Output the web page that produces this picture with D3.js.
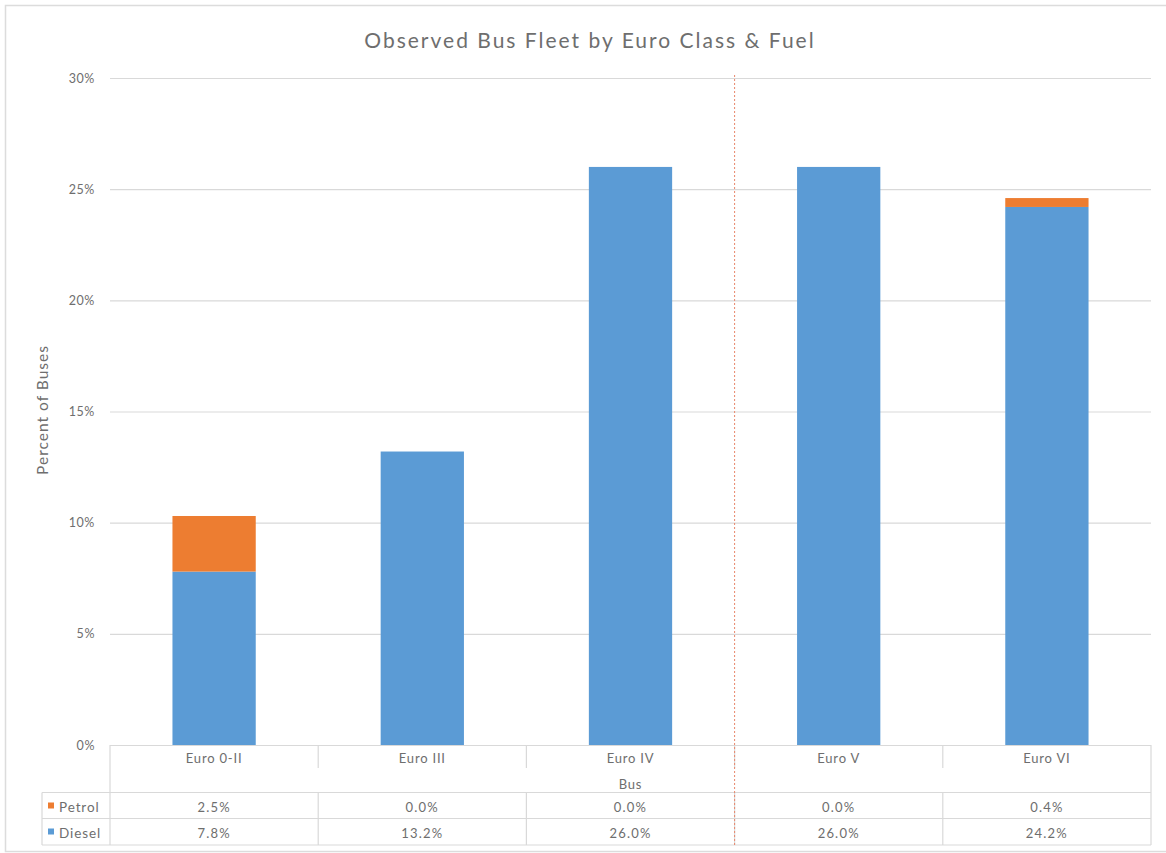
<!DOCTYPE html>
<html>
<head>
<meta charset="utf-8">
<script src="https://cdn.jsdelivr.net/npm/d3@7"></script>
<style>
  html, body { margin: 0; padding: 0; background: #fff; }
  svg text { font-family: Lato, "Open Sans", sans-serif; fill: #6e6e6e; }
</style>
</head>
<body>
<svg id="chart" width="1166" height="853"></svg>
<script>
// Euro classes along the x axis
const categories = ["Euro 0-II", "Euro III", "Euro IV", "Euro V", "Euro VI"];
// Share of observed buses (%) by fuel
const diesel = [7.8, 13.2, 26.0, 26.0, 24.2];
const petrol = [2.5, 0.0, 0.0, 0.0, 0.4];
const yTicks = [0, 5, 10, 15, 20, 25, 30];
const axisGroupLabel = "Bus";
const chartTitle = "Observed Bus Fleet by Euro Class & Fuel";
const yTitle = "Percent of Buses";

const colors = { Diesel: "#5B9BD5", Petrol: "#ED7D31" };
const gridColor = "#d9d9d9";

const svg = d3.select("#chart");
const W = 1166, H = 853;
const plot = { left: 110, right: 1151, top: 78, bottom: 745 };

// outer chart frame
svg.append("rect")
  .attr("x", 5.5).attr("y", 5.5).attr("width", W + 20).attr("height", H - 7)
  .attr("fill", "none").attr("stroke", "#dcdcdc").attr("stroke-width", 1.5);

const x = d3.scaleBand().domain(categories)
  .range([plot.left, plot.right]).paddingInner(0.6).paddingOuter(0.3);
const y = d3.scaleLinear().domain([0, 30]).range([plot.bottom, plot.top]);

// gridlines
svg.append("g").selectAll("line").data(yTicks.filter(t => t > 0)).join("line")
  .attr("x1", plot.left).attr("x2", plot.right)
  .attr("y1", d => y(d) + 0.5).attr("y2", d => y(d) + 0.5)
  .attr("stroke", gridColor).attr("stroke-width", 1.2);

// y axis labels
const yAxis = d3.axisLeft(y).tickValues(yTicks).tickFormat(d => d + "%").tickSize(0).tickPadding(15);
const yg = svg.append("g").attr("transform", `translate(${plot.left},0)`).call(yAxis);
yg.select(".domain").remove();
yg.selectAll("text").attr("font-size", 12.5).attr("letter-spacing", 0.6)
  .style("font-family", "Lato, sans-serif").attr("fill", "#7a7a7a");

// stacked bars
const rows = categories.map((c, i) => ({ cat: c, Diesel: diesel[i], Petrol: petrol[i] }));
const stack = d3.stack().keys(["Diesel", "Petrol"])(rows);
svg.append("g").selectAll("g").data(stack).join("g")
  .attr("fill", s => colors[s.key])
  .selectAll("rect").data(s => s).join("rect")
  .attr("x", d => x(d.data.cat))
  .attr("width", x.bandwidth())
  .attr("y", d => y(d[1]))
  .attr("height", d => y(d[0]) - y(d[1]));

// data table beneath the axis
const step = x.step();
const colStart = c => x(c) - (step - x.bandwidth()) / 2;
const rowY = { catText: 763, busText: 789, petrolTop: 792.5, dieselTop: 818.5, bottom: 845 };
const tbl = svg.append("g").attr("stroke", gridColor).attr("stroke-width", 1.2);
// horizontal rules
tbl.append("line").attr("x1", plot.left).attr("x2", plot.right).attr("y1", plot.bottom + 0.5).attr("y2", plot.bottom + 0.5);
[rowY.petrolTop, rowY.dieselTop, rowY.bottom].forEach(yy => {
  tbl.append("line").attr("x1", 42).attr("x2", plot.right).attr("y1", yy).attr("y2", yy);
});
// vertical rules
tbl.append("line").attr("x1", plot.left).attr("x2", plot.left).attr("y1", plot.bottom).attr("y2", rowY.bottom);
tbl.append("line").attr("x1", plot.right).attr("x2", plot.right).attr("y1", plot.bottom).attr("y2", rowY.bottom);
tbl.append("line").attr("x1", 42).attr("x2", 42).attr("y1", rowY.petrolTop).attr("y2", rowY.bottom);
categories.slice(1).forEach(c => {
  const xx = colStart(c);
  tbl.append("line").attr("x1", xx).attr("x2", xx).attr("y1", plot.bottom).attr("y2", plot.bottom + 23);
  tbl.append("line").attr("x1", xx).attr("x2", xx).attr("y1", rowY.petrolTop).attr("y2", rowY.bottom);
});

// category labels
svg.append("g").selectAll("text").data(categories).join("text")
  .attr("x", d => x(d) + x.bandwidth() / 2).attr("y", rowY.catText)
  .attr("text-anchor", "middle").attr("font-size", 13).attr("letter-spacing", 0.8).text(d => d);
svg.append("text").attr("x", (plot.left + plot.right) / 2).attr("y", rowY.busText)
  .attr("text-anchor", "middle").attr("font-size", 13).attr("letter-spacing", 0.8).text(axisGroupLabel);

// value rows
const tableRows = [
  { name: "Petrol", values: petrol, top: rowY.petrolTop },
  { name: "Diesel", values: diesel, top: rowY.dieselTop }
];
tableRows.forEach(r => {
  const base = r.top + 19.5;
  svg.append("rect").attr("x", 48).attr("y", r.top + 10).attr("width", 6).attr("height", 6).attr("fill", colors[r.name]);
  svg.append("text").attr("x", 59).attr("y", base).attr("font-size", 13.5).attr("letter-spacing", 0.9).text(r.name);
  svg.append("g").selectAll("text").data(r.values).join("text")
    .attr("x", (d, i) => x(categories[i]) + x.bandwidth() / 2).attr("y", base)
    .attr("text-anchor", "middle").attr("font-size", 13).attr("letter-spacing", 1.2)
    .text(d => d.toFixed(1) + "%");
});

// dashed divider between Euro IV and Euro V
const divX = colStart("Euro V");
svg.append("line").attr("x1", divX).attr("x2", divX).attr("y1", plot.top - 3).attr("y2", rowY.bottom)
  .attr("stroke", "#e8866a").attr("stroke-width", 1).attr("stroke-dasharray", "2,2");

// title
svg.append("text").attr("x", 590).attr("y", 48).attr("text-anchor", "middle")
  .attr("font-size", 21).attr("letter-spacing", 2).attr("fill", "#5f5f5f").text(chartTitle);

// y axis title
svg.append("text").attr("transform", `translate(48,410) rotate(-90)`)
  .attr("text-anchor", "middle").attr("font-size", 15.5).attr("letter-spacing", 1).text(yTitle);
</script>
</body>
</html>
